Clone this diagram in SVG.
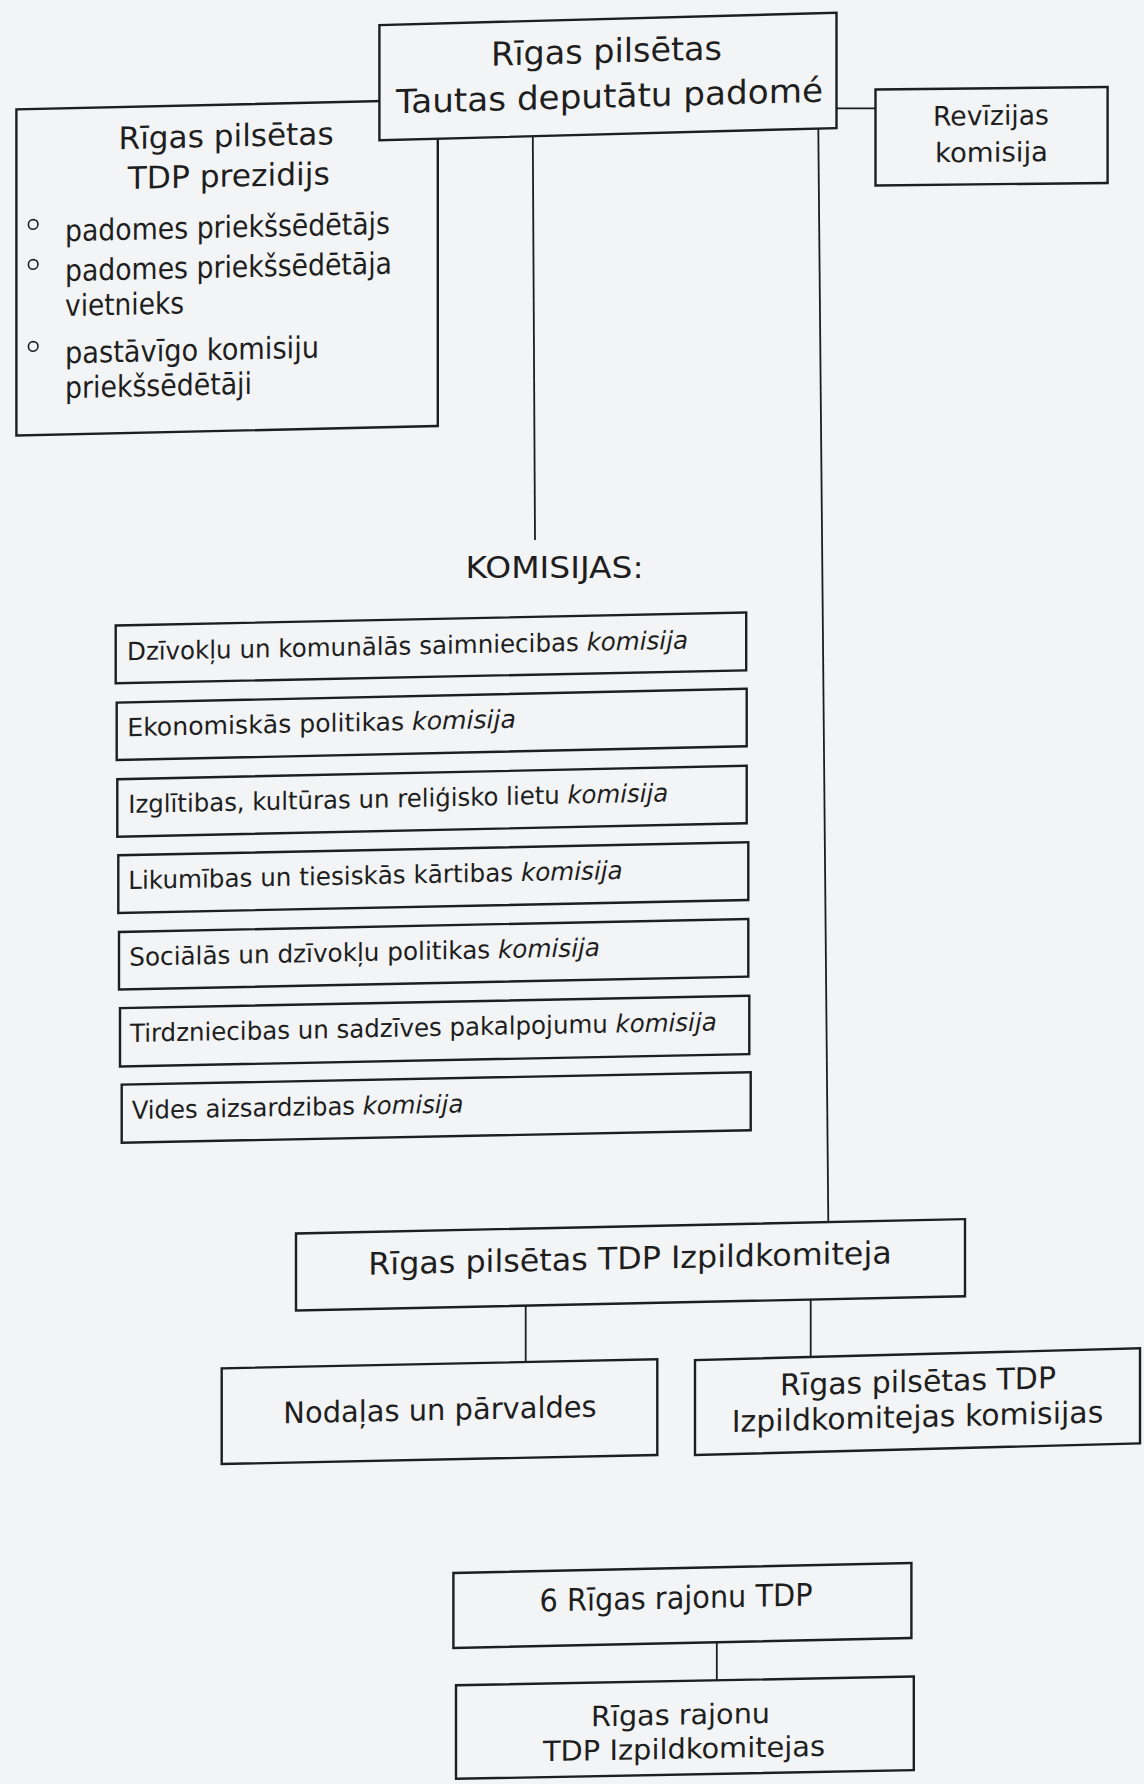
<svg xmlns="http://www.w3.org/2000/svg" width="1144" height="1784" viewBox="0 0 1144 1784">
<style>
.bg{fill:#f3f4f6}
.box{fill:#f3f4f6;stroke:#1e1e1e;stroke-width:2.4}
.conn{stroke:#1e1e1e;stroke-width:1.8;fill:none}
.bul{fill:none;stroke:#1e1e1e;stroke-width:1.6}
text{font-family:"DejaVu Sans","Liberation Sans",sans-serif;fill:#1e1e1e}
.t33{font-size:33px}
.t31{font-size:31px}
.t30{font-size:30px}
.t29{font-size:29.5px}
.t28{font-size:28px}
.t27{font-size:27px}
.t25{font-size:25px}
.it{font-style:italic}
</style>
<rect class="bg" x="0" y="0" width="1144" height="1784"/>

<g id="presidium" transform="matrix(1 -0.0226 0 1 0 5.13)">
<rect class="box" x="16.4" y="104.6" width="421.4" height="326.2"/>
<text class="t31" x="118.6" y="146.7" textLength="215" lengthAdjust="spacingAndGlyphs">Rīgas pilsētas</text>
<text class="t31" x="127.7" y="186.7" textLength="202" lengthAdjust="spacingAndGlyphs">TDP prezidijs</text>
<circle class="bul" cx="33.2" cy="220" r="4.8"/>
<text class="t30" x="65" y="237.5" textLength="325" lengthAdjust="spacingAndGlyphs">padomes priekšsēdētājs</text>
<circle class="bul" cx="33.2" cy="260" r="4.8"/>
<text class="t30" x="65" y="277.4" textLength="327" lengthAdjust="spacingAndGlyphs">padomes priekšsēdētāja</text>
<text class="t30" x="65" y="312.4" textLength="119" lengthAdjust="spacingAndGlyphs">vietnieks</text>
<circle class="bul" cx="33.2" cy="342" r="4.8"/>
<text class="t30" x="65" y="359.7" textLength="254" lengthAdjust="spacingAndGlyphs">pastāvīgo komisiju</text>
<text class="t30" x="65" y="394.4" textLength="187" lengthAdjust="spacingAndGlyphs">priekšsēdētāji</text>
</g>

<g id="connectors">
<line class="conn" x1="532.8" y1="136" x2="535" y2="540"/>
<line class="conn" x1="818.3" y1="128.5" x2="828.3" y2="1222"/>
<line class="conn" x1="836.5" y1="108.3" x2="875.5" y2="108.3"/>
<line class="conn" x1="525.7" y1="1305.7" x2="525.7" y2="1362"/>
<line class="conn" x1="810.7" y1="1299.5" x2="810.7" y2="1357"/>
<line class="conn" x1="716.8" y1="1642.3" x2="716.8" y2="1680.3"/>
</g>

<g id="padome" transform="matrix(1 -0.0269 0 1 0 16.36)">
<rect class="box" x="379.4" y="18.9" width="457.1" height="115.3"/>
<text class="t33" x="491" y="62.5" textLength="231" lengthAdjust="spacingAndGlyphs">Rīgas pilsētas</text>
<text class="t33" x="396" y="107.5" textLength="427" lengthAdjust="spacingAndGlyphs">Tautas deputātu padomé</text>
</g>

<g id="revizijas" transform="matrix(1 -0.0108 0 1 0 10.71)">
<rect class="box" x="875.5" y="88.3" width="232.1" height="95.9"/>
<text class="t27" x="933" y="125" textLength="116" lengthAdjust="spacingAndGlyphs">Revīzijas</text>
<text class="t27" x="935" y="161.7" textLength="113" lengthAdjust="spacingAndGlyphs">komisija</text>
</g>

<g id="komisijas-label">
<text class="t31" x="465.5" y="577.5" textLength="178" lengthAdjust="spacingAndGlyphs">KOMISIJAS:</text>
</g>

<g id="kom1" transform="matrix(1 -0.0206 0 1 0 8.88)">
<rect class="box" x="115.7" y="619" width="630.5" height="57.8"/>
<text class="t25" x="127" y="654" textLength="561" lengthAdjust="spacingAndGlyphs">Dzīvokļu un komunālās saimniecibas <tspan class="it">komisija</tspan></text>
</g>
<g id="kom2" transform="matrix(1 -0.0219 0 1 0 9.45)">
<rect class="box" x="116.7" y="695.7" width="630" height="57.5"/>
<text class="t25" x="127.3" y="729.5" textLength="388.7" lengthAdjust="spacingAndGlyphs">Ekonomiskās politikas <tspan class="it">komisija</tspan></text>
</g>
<g id="kom3" transform="matrix(1 -0.0214 0 1 0 9.24)">
<rect class="box" x="117.3" y="772.5" width="629.4" height="57.5"/>
<text class="t25" x="128.3" y="806.5" textLength="540" lengthAdjust="spacingAndGlyphs">Izglītibas, kultūras un reliģisko lietu <tspan class="it">komisija</tspan></text>
</g>
<g id="kom4" transform="matrix(1 -0.0205 0 1 0 8.88)">
<rect class="box" x="118.3" y="848.8" width="630" height="57.7"/>
<text class="t25" x="128.3" y="882.8" textLength="494.4" lengthAdjust="spacingAndGlyphs">Likumības un tiesiskās kārtibas <tspan class="it">komisija</tspan></text>
</g>
<g id="kom5" transform="matrix(1 -0.0206 0 1 0 8.93)">
<rect class="box" x="119" y="925.5" width="629.3" height="57.6"/>
<text class="t25" x="129.3" y="959.5" textLength="470.7" lengthAdjust="spacingAndGlyphs">Sociālās un dzīvokļu politikas <tspan class="it">komisija</tspan></text>
</g>
<g id="kom6" transform="matrix(1 -0.0196 0 1 0 8.52)">
<rect class="box" x="120" y="1002" width="629.3" height="58.3"/>
<text class="t25" x="130" y="1036" textLength="586.7" lengthAdjust="spacingAndGlyphs">Tirdzniecibas un sadzīves pakalpojumu <tspan class="it">komisija</tspan></text>
</g>
<g id="kom7" transform="matrix(1 -0.0197 0 1 0 8.59)">
<rect class="box" x="121.7" y="1078.5" width="629" height="58"/>
<text class="t25" x="131.7" y="1113" textLength="331.6" lengthAdjust="spacingAndGlyphs">Vides aizsardzibas <tspan class="it">komisija</tspan></text>
</g>

<g id="izpildkomiteja" transform="matrix(1 -0.0215 0 1 0 13.56)">
<rect class="box" x="296" y="1226.3" width="669" height="77.1"/>
<text class="t31" x="368.3" y="1269" textLength="523.4" lengthAdjust="spacingAndGlyphs">Rīgas pilsētas TDP Izpildkomiteja</text>
</g>

<g id="nodalas" transform="matrix(1 -0.0207 0 1 0 9.10)">
<rect class="box" x="221.7" y="1363.8" width="435.6" height="95.7"/>
<text class="t29" x="283.3" y="1420" textLength="313.4" lengthAdjust="spacingAndGlyphs">Nodaļas un pārvaldes</text>
</g>

<g id="izpild-komisijas" transform="matrix(1 -0.0263 0 1 0 24.13)">
<rect class="box" x="695" y="1354.2" width="445" height="95"/>
<text class="t30" x="780" y="1391.8" textLength="276" lengthAdjust="spacingAndGlyphs">Rīgas pilsētas TDP</text>
<text class="t30" x="731.7" y="1427.2" textLength="371.6" lengthAdjust="spacingAndGlyphs">Izpildkomitejas komisijas</text>
</g>

<g id="rajonu-tdp" transform="matrix(1 -0.0218 0 1 0 14.88)">
<rect class="box" x="453.4" y="1568" width="458" height="75"/>
<text class="t31" x="539.5" y="1608.3" textLength="273" lengthAdjust="spacingAndGlyphs">6 Rīgas rajonu TDP</text>
</g>

<g id="rajonu-izpild" transform="matrix(1 -0.019 0 1 0 13.01)">
<rect class="box" x="456" y="1680.9" width="457.8" height="93.6"/>
<text class="t28" x="591" y="1724.5" textLength="179" lengthAdjust="spacingAndGlyphs">Rīgas rajonu</text>
<text class="t28" x="543" y="1758.5" textLength="282" lengthAdjust="spacingAndGlyphs">TDP Izpildkomitejas</text>
</g>
</svg>
